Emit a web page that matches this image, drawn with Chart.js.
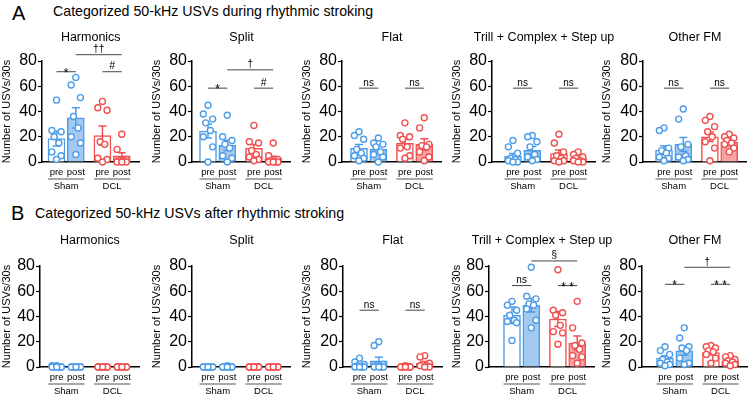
<!DOCTYPE html>
<html><head><meta charset="utf-8">
<script src="https://cdn.jsdelivr.net/npm/chart.js@4"></script>
<style>
html,body{margin:0;padding:0;background:#fff;}
body{width:750px;height:394px;overflow:hidden;position:relative;font-family:"Liberation Sans",Arial,sans-serif;}
.hdr{position:absolute;white-space:nowrap;color:#000;line-height:1;}
canvas{position:absolute;}
</style></head><body>
<div class="hdr" style="left:12px;top:3px;font-size:20px">A</div>
<div class="hdr" style="left:53px;top:4px;font-size:14.2px">Categorized 50-kHz USVs during rhythmic stroking</div>
<div class="hdr" style="left:11px;top:203px;font-size:20px">B</div>
<div class="hdr" style="left:35px;top:206px;font-size:14.2px">Categorized 50-kHz USVs after rhythmic stroking</div>
<script>
// ---------- data ----------
const groupNames = ['Sham pre','Sham post','DCL pre','DCL post'];
const xLabels = ['pre','post','pre','post'];
const groupLabels = ['Sham','DCL'];
const panelTitles = ['Harmonics','Split','Flat','Trill + Complex + Step up','Other FM'];
const yTicks = [0,20,40,60,80];
const yTitle = 'Number of USVs/30s';

// A: during rhythmic stroking
const A_harm_mean = [18.5, 35, 21, 4.8];
const A_harm_sem  = [5.8, 8, 7.5, 2.6];
const A_harm_pts  = [[49,25,24,20,15,8,5,2],[67,61,51,36,27,20,15,6],[48,43,41,16,14,3,2,0],[22,10,2,1,1,0,0,0]];
const A_harm_sig  = [['*',0,1,71.5],['#',2,3,71.5],['††',1,3,85]];

const A_split_mean = [24.5, 13.2, 10.8, 2.7];
const A_split_sem  = [5.5, 4, 3, 1.8];
const A_split_pts  = [[45,38,34,31,25,20,12,0],[37,20,17,14,11,5,3,0],[29,16,15,9,6,4,2,1],[15,5,2,1,0,0,0,0]];
const A_split_sig  = [['*',0,1,58.5],['#',2,3,58.5],['†',1,3,73]];

const A_flat_mean = [10.8, 10, 14.8, 14];
const A_flat_sem  = [3, 2.5, 3, 4.5];
const A_flat_pts  = [[24,21,18,10,7,5,3,1],[19,15,14,12,8,6,4,0],[31,21,20,18,12,11,5,3],[35,27,14,13,12,8,4,1]];
const A_flat_sig  = [['ns',0,1,58.5],['ns',2,3,58.5]];

const A_trill_mean = [4.5, 9.3, 6.6, 2.7];
const A_trill_sem  = [2.3, 3, 3, 1.1];
const A_trill_pts  = [[17,12,7,3,2,1,0,0],[21,20,16,12,6,4,2,1],[22,15,8,5,3,1,1,0],[8,6,4,3,1,1,0,0]];
const A_trill_sig  = [['ns',0,1,58.5],['ns',2,3,58.5]];

const A_other_mean = [9.5, 14, 20, 15.8];
const A_other_sem  = [3.3, 5.5, 3.8, 1.5];
const A_other_pts  = [[27,25,11,9,7,4,3,1],[42,34,14,12,5,4,2,1],[36,33,28,24,20,16,11,1],[22,20,19,17,15,14,11,8]];
const A_other_sig  = [['ns',0,1,58.5],['ns',2,3,58.5]];

// B: after rhythmic stroking
const B_harm_mean = [0.3, 0, 0, 0];
const B_harm_sem  = [0.2, 0, 0, 0];
const B_harm_pts  = [[1,1,0,0,0,0,0,0],[0,0,0,0,0,0,0,0],[0,0,0,0,0,0,0,0],[0,0,0,0,0,0,0,0]];
const B_harm_sig  = [];

const B_split_mean = [0, 0.1, 0, 0];
const B_split_sem  = [0, 0.1, 0, 0];
const B_split_pts  = [[0,0,0,0,0,0,0,0],[1,0,0,0,0,0,0,0],[0,0,0,0,0,0,0,0],[0,0,0,0,0,0,0,0]];
const B_split_sig  = [];

const B_flat_mean = [1.5, 4.8, 0.1, 3];
const B_flat_sem  = [0.9, 3, 0.1, 1.3];
const B_flat_pts  = [[7,4,2,1,0,0,0,0],[20,17,2,1,0,0,0,0],[1,0,0,0,0,0,0,0],[9,8,3,2,1,1,0,0]];
const B_flat_sig  = [['ns',0,1,45],['ns',2,3,45]];

const B_trill_mean = [41, 49, 38, 19];
const B_trill_sem  = [6.5, 5.5, 6, 5.5];
const B_trill_pts  = [[52,49,45,41,37,36,35,21],[79,56,54,50,49,46,37,31],[77,45,43,41,33,28,27,18],[52,31,19,17,14,9,8,3]];
const B_trill_sig  = [['ns',0,1,64.5],['**',2,3,64.5],['§',1,3,84]];

const B_other_mean = [7, 12.8, 11.5, 4.8];
const B_other_sem  = [1.9, 3.5, 1.7, 1];
const B_other_pts  = [[16,13,10,6,4,3,2,1],[31,23,16,15,13,7,3,2],[17,16,15,13,12,10,7,3],[9,8,6,5,4,3,2,1]];
const B_other_sig  = [['*',0,1,65.5],['**',2,3,65.5],['†',1,3,79]];

// ---------- style / layout ----------
const FONT = '"Liberation Sans", Arial, sans-serif';
Chart.defaults.font.family = FONT;
Chart.defaults.color = '#000';
const seriesColor = ['#4d9de8','#4d9de8','#f0504f','#f0504f'];
const seriesFill  = ['#ffffff','#a3c9f1','#ffffff','#f5a3a3'];
const xPos = [1, 2, 3.38, 4.38];
const UNIT = 19.3, XMAX = 5.3, BARW = 17;
const jitter = [0,-0.24,0.24,-0.12,0.12,-0.24,0.24,0];
const CW = 190, CH = 169, SHIFT = 20;

const panels = [
  {row:0,col:0,mean:A_harm_mean,sem:A_harm_sem,pts:A_harm_pts,sig:A_harm_sig,axisX:42,first:14.5},
  {row:0,col:1,mean:A_split_mean,sem:A_split_sem,pts:A_split_pts,sig:A_split_sig,axisX:192,first:16},
  {row:0,col:2,mean:A_flat_mean,sem:A_flat_sem,pts:A_flat_pts,sig:A_flat_sig,axisX:342,first:17},
  {row:0,col:3,mean:A_trill_mean,sem:A_trill_sem,pts:A_trill_pts,sig:A_trill_sig,axisX:492,first:21},
  {row:0,col:4,mean:A_other_mean,sem:A_other_sem,pts:A_other_pts,sig:A_other_sig,axisX:643,first:21},
  {row:1,col:0,mean:B_harm_mean,sem:B_harm_sem,pts:B_harm_pts,sig:B_harm_sig,axisX:40,first:16.7},
  {row:1,col:1,mean:B_split_mean,sem:B_split_sem,pts:B_split_pts,sig:B_split_sig,axisX:192,first:16},
  {row:1,col:2,mean:B_flat_mean,sem:B_flat_sem,pts:B_flat_pts,sig:B_flat_sig,axisX:343,first:16.5},
  {row:1,col:3,mean:B_trill_mean,sem:B_trill_sem,pts:B_trill_pts,sig:B_trill_sig,axisX:489,first:23},
  {row:1,col:4,mean:B_other_mean,sem:B_other_sem,pts:B_other_pts,sig:B_other_sig,axisX:642,first:23}
];

function usvPlugin(p){
  return {
    id: 'usv' + p.row + p.col,
    afterDatasetDraw(chart, args){
      if (args.meta.type !== 'bar') return;
      const ctx = chart.ctx, xs = chart.scales.x, ys = chart.scales.y;
      ctx.save(); ctx.lineWidth = 1.5;
      p.mean.forEach((m,i)=>{
        const s = p.sem[i]; if (!s) return;
        const x = xs.getPixelForValue(xPos[i]);
        const yt = ys.getPixelForValue(m + s), yb = ys.getPixelForValue(Math.max(0, m - s));
        ctx.strokeStyle = seriesColor[i];
        ctx.beginPath();
        ctx.moveTo(x, yt); ctx.lineTo(x, yb);
        ctx.moveTo(x-4, yt); ctx.lineTo(x+4, yt);
        ctx.moveTo(x-4, yb); ctx.lineTo(x+4, yb);
        ctx.stroke();
      });
      ctx.restore();
    },
    afterDraw(chart){
      const ctx = chart.ctx, xs = chart.scales.x, ys = chart.scales.y, ca = chart.chartArea;
      ctx.save();
      ctx.fillStyle = '#000'; ctx.textAlign = 'center'; ctx.textBaseline = 'alphabetic';
      ctx.font = '12.5px ' + FONT;
      ctx.fillText(panelTitles[p.col], (ca.left + ca.right)/2, ca.top - (p.row === 0 ? 20 : 22));
      const base = ys.getPixelForValue(0);
      ctx.font = '9.5px ' + FONT;
      xLabels.forEach((t,i)=> ctx.fillText(t, xs.getPixelForValue(xPos[i]), base + 13));
      ctx.strokeStyle = '#555'; ctx.lineWidth = 1;
      [0,2].forEach((g,k)=>{
        const x1 = xs.getPixelForValue(xPos[g]) - BARW/2, x2 = xs.getPixelForValue(xPos[g+1]) + BARW/2;
        ctx.beginPath(); ctx.moveTo(x1, base + 17); ctx.lineTo(x2, base + 17); ctx.stroke();
        ctx.fillText(groupLabels[k], (x1 + x2)/2, base + 27);
      });
      p.sig.forEach(([t,i,j,v])=>{
        const x1 = xs.getPixelForValue(xPos[i]), x2 = xs.getPixelForValue(xPos[j]);
        const y = ys.getPixelForValue(v);
        ctx.strokeStyle = '#444'; ctx.lineWidth = 1;
        ctx.beginPath(); ctx.moveTo(x1, y); ctx.lineTo(x2, y); ctx.stroke();
        if (t === '*' || t === '**') {
          ctx.font = '12px ' + FONT;
          ctx.fillText(t === '**' ? '* *' : '*', (x1 + x2)/2, y + 5);
        } else if (t === 'ns') {
          ctx.font = '10px ' + FONT;
          ctx.fillText(t, (x1 + x2)/2, y - 2.5);
        } else {
          ctx.font = '10.5px ' + FONT;
          ctx.fillText(t, (x1 + x2)/2, y - 2.5);
        }
      });
      ctx.restore();
    }
  };
}

panels.forEach(p=>{
  const cv = document.createElement('canvas');
  const left = p.col*150 - SHIFT, top = p.row === 0 ? 25 : 225;
  cv.width = CW; cv.height = CH;
  cv.style.left = left + 'px'; cv.style.top = top + 'px';
  cv.style.width = CW + 'px'; cv.style.height = CH + 'px';
  document.body.appendChild(cv);
  const yW = p.axisX - p.col*150;
  const padTop = p.row === 0 ? 36 : 41;
  const xH = CH - padTop - 101;
  const xmin = 1 - p.first/UNIT;
  const areaW = p.first + (XMAX - 1)*UNIT;
  const padRight = CW - SHIFT - yW - areaW;

  const datasets = [{
    type: 'bar',
    data: p.mean.map((m,i)=>({x: xPos[i], y: m})),
    backgroundColor: seriesFill, borderColor: seriesColor, borderWidth: 1.5,
    barThickness: BARW, order: 2
  }];
  p.pts.forEach((arr,g)=>{
    datasets.push({
      type: 'scatter',
      data: arr.map((v,k)=>({x: xPos[g] + jitter[k % jitter.length], y: v})),
      pointRadius: 3, pointBorderWidth: 1.4, borderColor: seriesColor[g],
      backgroundColor: '#ffffff', pointBackgroundColor: '#ffffff',
      clip: false, order: 1
    });
  });

  new Chart(cv, {
    type: 'bar',
    data: { datasets },
    options: {
      responsive: false, animation: false, devicePixelRatio: 1,
      layout: { padding: { left: SHIFT, right: padRight, top: padTop, bottom: 0 } },
      plugins: { legend: {display:false}, tooltip: {enabled:false}, title: {display:false} },
      scales: {
        x: {
          type: 'linear', min: xmin, max: XMAX, offset: false,
          ticks: { display: false }, grid: { display: false },
          border: { display: true, color: '#000', width: 1.5 },
          afterFit: s => { s.height = xH; }
        },
        y: {
          min: 0, max: 80,
          ticks: { stepSize: 10, padding: 1, font: { size: 16 }, color: '#000',
                   callback: v => yTicks.includes(v) ? String(v) : '' },
          grid: { drawOnChartArea: false, drawTicks: true, tickLength: 4, tickColor: '#000', tickWidth: 1.2 },
          border: { display: true, color: '#000', width: 1.5 },
          title: { display: true, text: yTitle, font: { size: 11 }, color: '#000', padding: { top: 0, bottom: 0 } },
          afterFit: s => { s.width = yW; }
        }
      }
    },
    plugins: [usvPlugin(p)]
  });
});
</script>
</body></html>
